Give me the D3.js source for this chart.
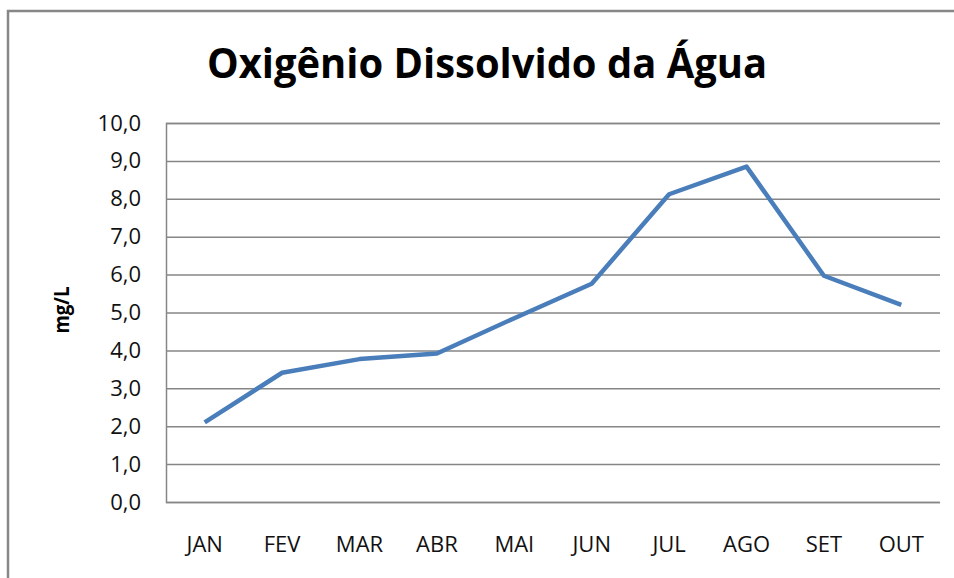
<!DOCTYPE html>
<html>
<head>
<meta charset="utf-8">
<script src="https://cdn.jsdelivr.net/npm/d3@7"></script>
<style>
  body { margin: 0; background: #fff; }
  svg { display: block; font-family: "Open Sans", sans-serif; }
</style>
</head>
<body>
<script>
// chart data
const months = ["JAN", "FEV", "MAR", "ABR", "MAI", "JUN", "JUL", "AGO", "SET", "OUT"];
const oxygen = [2.1, 3.41, 3.77, 3.92, 4.85, 5.76, 8.12, 8.85, 5.97, 5.2];
const yTicks = [0, 1, 2, 3, 4, 5, 6, 7, 8, 9, 10];

const width = 954;
const height = 578;
const plotLeft = 166, plotRight = 940, plotTop = 123, plotBottom = 502;

const svg = d3.select("body").append("svg").attr("width", width).attr("height", height);

// outer chart border (runs past the right and bottom edges)
svg.append("rect")
  .attr("x", 8).attr("y", 11)
  .attr("width", 960).attr("height", 600)
  .attr("fill", "none")
  .attr("stroke", "#878787")
  .attr("stroke-width", 2.5);

const xScale = d3.scaleBand().domain(months).range([plotLeft, plotRight]);
const yScale = d3.scaleLinear().domain([0, 10]).range([plotBottom, plotTop]);

//Gridlines + y labels
const yAxis = d3.axisLeft(yScale)
  .tickValues(yTicks)
  .tickSize(-(plotRight - plotLeft))
  .tickPadding(25)
  .tickFormat(d => d3.format(".1f")(d).replace(".", ","));

const gy = svg.append("g").attr("transform", "translate(" + plotLeft + ",0)").call(yAxis);
gy.select(".domain").attr("stroke", "#868686").attr("stroke-width", 1.5);
gy.selectAll(".tick line").attr("stroke", "#868686").attr("stroke-width", 1.5);
gy.selectAll(".tick text")
  .attr("fill", "#111")
  .style("font-size", "22px")
  .style("font-family", "'Open Sans', sans-serif");

// x labels (no axis line / ticks)
const xAxis = d3.axisBottom(xScale).tickSize(0).tickPadding(0);
const gx = svg.append("g").attr("transform", "translate(0,536)").call(xAxis);
gx.select(".domain").remove();
gx.selectAll(".tick text")
  .attr("fill", "#111")
  .style("font-size", "22px")
  .style("font-family", "'Open Sans', sans-serif");

// the series line
const line = d3.line()
  .x((d, i) => xScale(months[i]) + xScale.bandwidth() / 2)
  .y(d => yScale(d));

svg.append("path")
  .datum(oxygen)
  .attr("d", line)
  .attr("fill", "none")
  .attr("stroke", "#4a7ebb")
  .attr("stroke-width", 4.5)
  .attr("stroke-linejoin", "round");

// title
svg.append("text")
  .attr("x", 487).attr("y", 78)
  .attr("text-anchor", "middle")
  .attr("textLength", 560)
  .attr("lengthAdjust", "spacingAndGlyphs")
  .style("font-size", "42px")
  .style("font-weight", "bold")
  .text("Oxigênio Dissolvido da Água");

// y axis title
svg.append("text")
  .attr("transform", "translate(69,310) rotate(-90)")
  .attr("text-anchor", "middle")
  .attr("textLength", 47)
  .attr("lengthAdjust", "spacingAndGlyphs")
  .style("font-size", "21px")
  .style("font-weight", "bold")
  .text("mg/L");
</script>
</body>
</html>
